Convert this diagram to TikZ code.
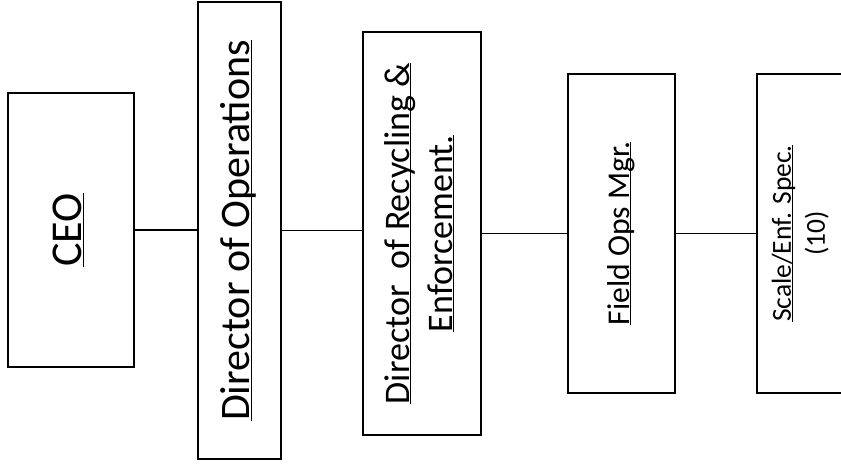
\documentclass[tikz,border=0pt]{standalone}
\usepackage{fontspec}
\setmainfont{Carlito}
\newcommand{\undr}[1]{\underline{\smash{#1}}}
\newcommand{\vtext}[3]{\rotatebox{90}{\fontsize{#1}{#2}\selectfont\begin{tabular}{@{}c@{}}#3\end{tabular}}}
\begin{document}
\begin{tikzpicture}[x=1pt, y=-1pt, box/.style={draw, line width=1.8pt, inner sep=0pt}, link/.style={line width=1.4pt}]
	\useasboundingbox (0,0) rectangle (841,466);
	\node[box, minimum width=126pt, minimum height=274pt] (ceo) at (71,230) {\vtext{44}{53}{\undr{CEO}}};
	\node[box, minimum width=83pt, minimum height=457pt] (dirops) at (239.5,230.5) {\vtext{42}{50}{\undr{Director of Operations}}};
	\node[box, minimum width=118pt, minimum height=403pt] (dirrec) at (422,233.5) {\vtext{36}{43}{\undr{Director\ \ of Recycling \&}\\ \undr{Enforcement.}}};
	\node[box, minimum width=107pt, minimum height=319pt] (field) at (621.5,233.5) {\vtext{31.7}{38}{\undr{Field Ops Mgr.}}};
	\node[box, minimum width=88pt, minimum height=319pt] (scale) at (801,233.5) {\vtext{27.5}{34}{\undr{Scale/Enf. Spec.}\\ (10)}};
	\draw[link] (ceo.east) -- (ceo.east -| dirops.west);
	\draw[link] (dirops.east) -- (dirops.east -| dirrec.west);
	\draw[link] (dirrec.east) -- (dirrec.east -| field.west);
	\draw[link] (field.east) -- (field.east -| scale.west);
\end{tikzpicture}
\end{document}
